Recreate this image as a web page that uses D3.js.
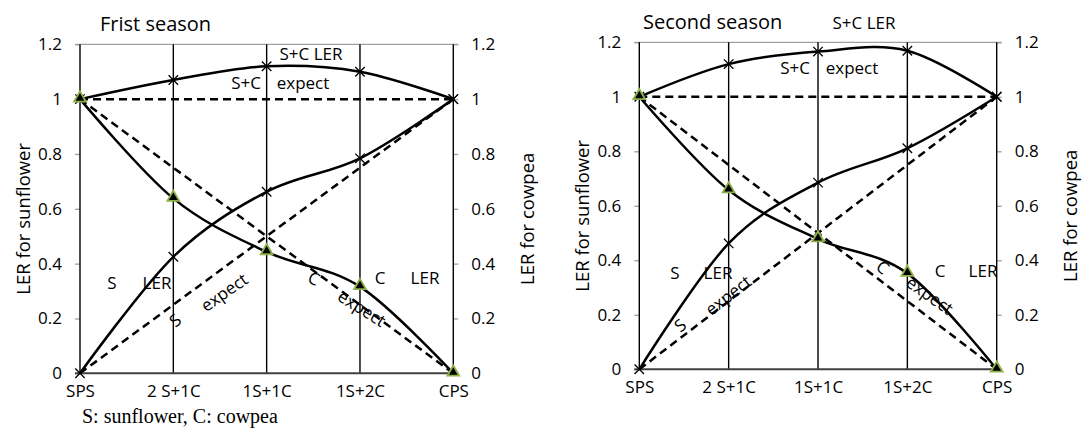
<!DOCTYPE html>
<html><head><meta charset="utf-8">
<script src="https://cdn.jsdelivr.net/npm/d3@7"></script>
<style>
body{margin:0;background:#fff;}
svg{display:block;font-family:"Open Sans","Noto Sans",sans-serif;}
</style></head>
<body><svg id="c" width="1085" height="428"></svg>
<script>
// ---- data ----
const categories = ["SPS", "2 S+1C", "1S+1C", "1S+2C", "CPS"];
const yTicks = [0, 0.2, 0.4, 0.6, 0.8, 1, 1.2];
const expectSunflower = [1, 0.75, 0.5, 0.25, 0];
const expectCowpea = [0, 0.25, 0.5, 0.75, 1];
const expectTotal = [1, 1, 1, 1, 1];
// first season
const s1Total = [1, 1.07, 1.12, 1.10, 1];
const s1Sunflower = [1, 0.638, 0.443, 0.316, 0];
const s1Cowpea = [0, 0.425, 0.662, 0.784, 1];
// second season
const s2Total = [1, 1.12, 1.166, 1.169, 1];
const s2Sunflower = [1, 0.658, 0.478, 0.352, 0];
const s2Cowpea = [0, 0.462, 0.685, 0.811, 1];
const titles = ["Frist season", "Second season"];

const svg = d3.select("#c");
const FONT = 17;

function panel(cfg) {
  const {left, right, top, bottom, title, total, sun, cow, ann} = cfg;
  const x = d3.scalePoint().domain(categories).range([left, right]);
  const y = d3.scaleLinear().domain([0, 1.2]).range([bottom, top]);
  const g = svg.append("g");

  // top border line at 1.2
  g.append("line").attr("x1", left - 5).attr("x2", right + 5)
    .attr("y1", y(1.2)).attr("y2", y(1.2)).attr("stroke", "#a0a0a0").attr("stroke-width", 1.3);

  // left axis
  const ax = g.append("g").attr("transform", `translate(${left},0)`)
    .call(d3.axisLeft(y).tickValues(yTicks).tickSize(5).tickPadding(13).tickFormat(d3.format("")));
  ax.select(".domain").remove();
  ax.selectAll(".tick line").attr("stroke", "#a0a0a0").attr("stroke-width", 1.3);
  ax.selectAll("text").attr("font-size", FONT).attr("fill", "#000").attr("font-family", "Open Sans");
  // right axis
  const ax2 = g.append("g").attr("transform", `translate(${right},0)`)
    .call(d3.axisRight(y).tickValues(yTicks).tickSize(5).tickPadding(13).tickFormat(d3.format("")));
  ax2.select(".domain").remove();
  ax2.selectAll(".tick line").attr("stroke", "#a0a0a0").attr("stroke-width", 1.3);
  ax2.selectAll("text").attr("font-size", FONT).attr("fill", "#000").attr("font-family", "Open Sans");

  // vertical category lines
  g.selectAll(".vl").data(categories).enter().append("line")
    .attr("x1", d => x(d)).attr("x2", d => x(d))
    .attr("y1", y(0)).attr("y2", y(1.2)).attr("stroke", "#000").attr("stroke-width", 1.4);

  // bottom axis
  const bx = g.append("g").attr("transform", `translate(0,${y(0)})`)
    .call(d3.axisBottom(x).tickSize(0).tickPadding(12));
  bx.select(".domain").attr("d", `M${left - 5},0H${right + 5}`).attr("stroke", "#404040").attr("stroke-width", 2);
  bx.selectAll("text").attr("font-size", FONT).attr("fill", "#000").attr("font-family", "Open Sans");

  // axis titles
  g.append("text").attr("transform", `translate(${left - 58},${(y(0) + y(1.2)) / 2 + 10}) rotate(-90)`)
    .attr("text-anchor", "middle").attr("dominant-baseline", "central").attr("font-size", 18.5).text("LER for sunflower");
  g.append("text").attr("transform", `translate(${right + 73},${(y(0) + y(1.2)) / 2 + 10}) rotate(-90)`)
    .attr("text-anchor", "middle").attr("dominant-baseline", "central").attr("font-size", 18.5).text("LER for cowpea");

  // title
  g.append("text").attr("x", title.x).attr("y", title.y).attr("font-size", 20).text(title.text);

  const pts = arr => arr.map((v, i) => [x(categories[i]), y(v)]);
  const line = d3.line().curve(d3.curveCatmullRom.alpha(0));
  const lin = d3.line();

  // expected dashed lines
  [expectTotal, expectSunflower, expectCowpea].forEach(s => {
    g.append("path").attr("d", lin(pts(s))).attr("fill", "none").attr("stroke", "#000")
      .attr("stroke-width", 2.5).attr("stroke-dasharray", "8,5");
  });
  // observed curves
  [total, sun, cow].forEach(s => {
    g.append("path").attr("d", line(pts(s))).attr("fill", "none").attr("stroke", "#000").attr("stroke-width", 2.5);
  });

  // x markers
  const cross = d3.symbol().type(d3.symbolX).size(60);
  [total, cow].forEach(s => {
    g.selectAll(null).data(pts(s)).enter().append("path").attr("d", cross)
      .attr("transform", d => `translate(${d[0]},${d[1]})`)
      .attr("fill", "none").attr("stroke", "#000").attr("stroke-width", 1.3);
  });
  // triangle markers
  const tri = d3.symbol().type(d3.symbolTriangle).size(60);
  g.selectAll(null).data(pts(sun)).enter().append("path").attr("d", tri)
    .attr("transform", d => `translate(${d[0]},${d[1] - 1})`)
    .attr("fill", "#000").attr("stroke", "#8db04a").attr("stroke-width", 1.8);

  // annotations
  ann.forEach(a => {
    g.append("text").attr("transform", `translate(${a.x},${a.y}) rotate(${a.r || 0})`)
      .attr("text-anchor", "middle").attr("dominant-baseline", "central")
      .attr("font-size", FONT).text(a.t);
  });
}

panel({
  left: 80, right: 453.3, top: 44.3, bottom: 373.3,
  title: {x: 100, y: 31, text: titles[0]},
  total: s1Total, sun: s1Sunflower, cow: s1Cowpea,
  ann: [
    {t: "S+C LER", x: 311, y: 53},
    {t: "S+C", x: 246, y: 82},
    {t: "expect", x: 303, y: 82},
    {t: "S", x: 112, y: 282},
    {t: "LER", x: 157, y: 282},
    {t: "S", x: 175, y: 320, r: -40},
    {t: "expect", x: 224, y: 292, r: -35},
    {t: "C", x: 314, y: 278, r: 25},
    {t: "expect", x: 362, y: 308, r: 32},
    {t: "C", x: 380, y: 277},
    {t: "LER", x: 425, y: 277}
  ]
});

panel({
  left: 639.3, right: 996.7, top: 42.3, bottom: 369.3,
  title: {x: 643, y: 29, text: titles[1]},
  total: s2Total, sun: s2Sunflower, cow: s2Cowpea,
  ann: [
    {t: "S+C LER", x: 864, y: 22},
    {t: "S+C", x: 795, y: 67},
    {t: "expect", x: 852, y: 67},
    {t: "S", x: 675, y: 272},
    {t: "LER", x: 718, y: 272},
    {t: "S", x: 680, y: 325, r: -40},
    {t: "expect", x: 728, y: 295, r: -38},
    {t: "C", x: 883, y: 267, r: 40},
    {t: "expect", x: 930, y: 295, r: 35},
    {t: "C", x: 940, y: 270},
    {t: "LER", x: 983, y: 270}
  ]
});

svg.append("text").attr("x", 82).attr("y", 423)
  .attr("font-family", "'Liberation Serif','DejaVu Serif',serif").attr("font-size", 20)
  .text("S: sunflower, C: cowpea");
</script></body></html>
